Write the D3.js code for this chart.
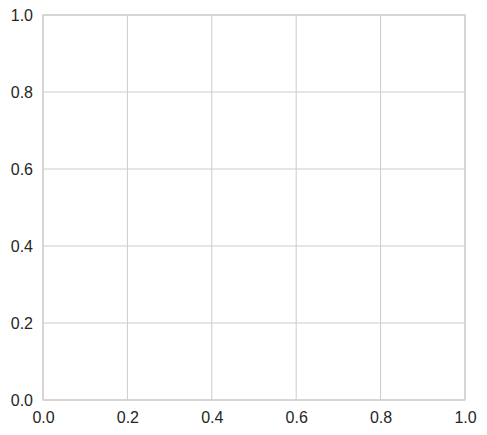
<!DOCTYPE html>
<html>
<head>
<meta charset="utf-8">
<script src="https://cdn.jsdelivr.net/npm/d3@7"></script>
<style>
  html, body { margin: 0; padding: 0; background: #fff; }
  text { font-family: "Liberation Sans", Arial, sans-serif; }
</style>
</head>
<body>
<div id="chart"></div>
<script>
// Empty axes, both running 0..1
const xDomain = [0, 1];
const yDomain = [0, 1];
const xTicks = [0, 0.2, 0.4, 0.6, 0.8, 1.0];
const yTicks = [0, 0.2, 0.4, 0.6, 0.8, 1.0];

const width = 487;
const height = 435;
const margin = { top: 15, right: 22, bottom: 35, left: 43 };
const innerW = width - margin.left - margin.right;
const innerH = height - margin.top - margin.bottom;

const svg = d3.select("#chart")
  .append("svg")
  .attr("width", width)
  .attr("height", height);

const g = svg.append("g")
  .attr("transform", `translate(${margin.left},${margin.top})`);

const x = d3.scaleLinear().domain(xDomain).range([0, innerW]);
const y = d3.scaleLinear().domain(yDomain).range([innerH, 0]);

// grid lines
g.append("g")
  .selectAll("line")
  .data(xTicks)
  .join("line")
  .attr("x1", d => x(d)).attr("x2", d => x(d))
  .attr("y1", 0).attr("y2", innerH)
  .attr("stroke", "#cccccc")
  .attr("stroke-width", 1);

g.append("g")
  .selectAll("line")
  .data(yTicks)
  .join("line")
  .attr("y1", d => y(d)).attr("y2", d => y(d))
  .attr("x1", 0).attr("x2", innerW)
  .attr("stroke", "#cccccc")
  .attr("stroke-width", 1);

// axes (labels only, no tick marks)
const xAxis = g.append("g")
  .attr("transform", `translate(0,${innerH})`)
  .call(d3.axisBottom(x).tickValues(xTicks).tickFormat(d3.format(".1f")).tickSize(0).tickPadding(11.5));

const yAxis = g.append("g")
  .call(d3.axisLeft(y).tickValues(yTicks).tickFormat(d3.format(".1f")).tickSize(0).tickPadding(10));

[xAxis, yAxis].forEach(a => {
  a.select(".domain").remove();
  a.selectAll("text")
    .attr("fill", "#262626")
    .style("font-size", "16px")
    .style("font-family", "'Liberation Sans', Arial, sans-serif");
});

// frame
g.append("rect")
  .attr("x", 0).attr("y", 0)
  .attr("width", innerW).attr("height", innerH)
  .attr("fill", "none")
  .attr("stroke", "#cccccc")
  .attr("stroke-width", 1.25);
</script>
</body>
</html>
